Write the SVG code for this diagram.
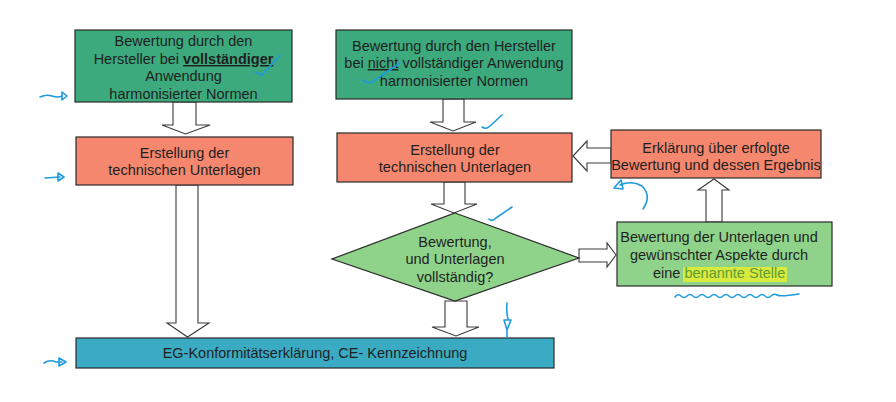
<svg xmlns="http://www.w3.org/2000/svg" width="896" height="402" viewBox="0 0 896 402">
<defs>
<style>
.box{stroke:#2a2a2a;stroke-width:1.2}
.g1{fill:#3caa7d}
.or{fill:#f5876e}
.g2{fill:#8fd38b}
.bl{fill:#3aabc2}
.t{font-family:"Liberation Sans",Arial,sans-serif;font-size:14.5px;fill:#1f1f1f;text-anchor:middle}
.arr{fill:#ffffff;stroke:#3a3a3a;stroke-width:1.1}
.ann{fill:none;stroke:#1e9be0;stroke-width:1.6;stroke-linecap:round;stroke-linejoin:round}
</style>
</defs>
<rect width="896" height="402" fill="#ffffff"/>

<g id="connectors">
<polygon class="arr" points="173,102 196,102 196,125 210,125 185.5,134 162,125 173,125"/>
<polygon class="arr" points="176,185 198,185 198,323 209,323 187.5,337 167,323 176,323"/>
<polygon class="arr" points="443,99 464,99 464,122 476,122 453,131 430,122 443,122"/>
<polygon class="arr" points="444,182 465,182 465,204 477,204 454,213 431,204 444,204"/>
<polygon class="arr" points="445,301 467,301 467,327 479,327 456,336 432,327 445,327"/>
<polygon class="arr" points="579,249 607,249 607,243 616,255 607,267 607,262 579,262"/>
<polygon class="arr" points="706,222 722,222 722,190 729,190 714,179 698,190 706,190"/>
<polygon class="arr" points="611,148 587,148 587,141 573,156 587,171 587,163 611,163"/>
</g>

<g id="n1">
<rect class="box g1" x="75" y="30" width="217" height="72"/>
<text class="t" x="183.5" y="46">Bewertung durch den</text>
<text class="t" x="183.5" y="64">Hersteller bei <tspan font-weight="bold" text-decoration="underline">vollständiger</tspan></text>
<text class="t" x="183.5" y="81">Anwendung</text>
<text class="t" x="183.5" y="99">harmonisierter Normen</text>
</g>

<g id="n2">
<rect class="box or" x="76" y="137" width="217" height="48"/>
<text class="t" x="184.5" y="158">Erstellung  der</text>
<text class="t" x="184.5" y="175">technischen Unterlagen</text>
</g>

<g id="n3">
<rect class="box g1" x="336" y="30" width="236" height="69"/>
<text class="t" x="454" y="51">Bewertung durch den Hersteller</text>
<text class="t" x="454" y="68">bei <tspan text-decoration="underline">nicht</tspan> vollständiger Anwendung</text>
<text class="t" x="454" y="86">harmonisierter Normen</text>
</g>

<g id="n4">
<rect class="box or" x="337" y="133" width="235" height="49"/>
<text class="t" x="455" y="155">Erstellung der</text>
<text class="t" x="455" y="172">technischen Unterlagen</text>
</g>

<g id="n5">
<polygon class="box g2" points="455,213 579,258 455,301 332,259"/>
<text class="t" x="455" y="247">Bewertung,</text>
<text class="t" x="455" y="264">und Unterlagen</text>
<text class="t" x="455" y="282">vollständig?</text>
</g>

<g id="n6">
<rect class="box g2" x="617" y="222" width="215" height="64"/>
<rect x="683" y="267" width="104" height="15" fill="#d8ea3c"/>
<text class="t" x="719" y="242">Bewertung der Unterlagen und</text>
<text class="t" x="719" y="260">gewünschter Aspekte durch</text>
<text class="t" x="653" y="278" text-anchor="start" style="text-anchor:start">eine <tspan fill="#5f9a3a">benannte Stelle</tspan></text>
</g>

<g id="n7">
<rect class="box or" x="611" y="130" width="210" height="48"/>
<text class="t" x="716" y="153">Erklärung über erfolgte</text>
<text class="t" x="716" y="170">Bewertung und dessen Ergebnis</text>
</g>

<g id="n8">
<rect class="box bl" x="76" y="338" width="478" height="30"/>
<text class="t" x="315" y="358">EG-Konformitätserklärung, CE- Kennzeichnung</text>
</g>

<g id="annotations">
<path class="ann" d="M40,97 Q46,94 52,96 T62,96 M62,96 L62,92 L67,96 L62,100 Z"/>
<path class="ann" d="M45,178 L60,177 M58,173 L64,177 L58,181 Z"/>
<path class="ann" d="M44,363 Q50,359 56,362 L62,362 M59,358 L66,362 L59,366 Z"/>
<path class="ann" d="M255,72 L262,75 L280,55"/>
<path class="ann" d="M362,80 Q368,84 372,82 L400,63"/>
<path class="ann" d="M482,127 Q486,130 490,126 L502,115"/>
<path class="ann" d="M489,219 Q492,222 496,218 L512,207"/>
<path class="ann" d="M507,303 Q506,312 508,319 M504,320 L511,320 L507,330 Z M507,330 L507,337"/>
<path class="ann" d="M643,209 Q652,196 642,186 Q632,180 620,185 M614,188 L621,180 L623,189 Z"/>
<path class="ann" d="M675,297 Q678,293 681,296 T687,296 T693,296 T699,296 T705,296 T711,296 T717,296 T723,296 T729,296 T735,296 T741,296 T747,296 T753,296 T759,296 T765,296 T771,296 T777,295 T799,294"/>
</g>
</svg>
